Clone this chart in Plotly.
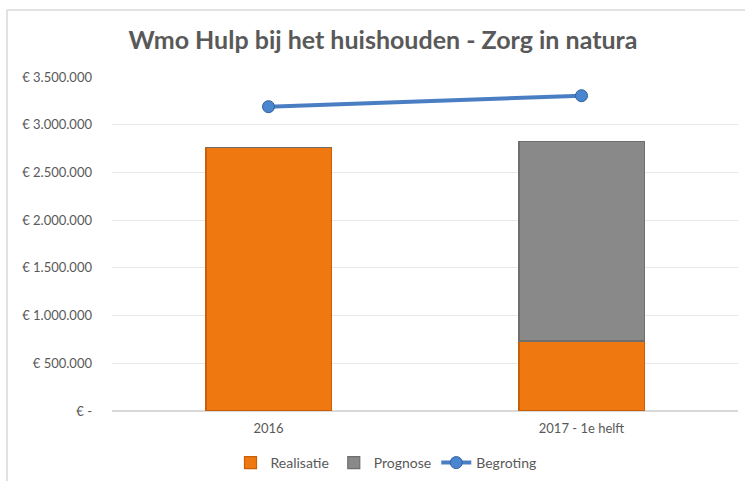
import plotly.graph_objects as go

categories = ["2016", "2017 - 1e helft"]
realisatie = [2765000, 733000]
prognose = [0, 2089000]
begroting = [3189000, 3304000]
tick_vals = [0, 500000, 1000000, 1500000, 2000000, 2500000, 3000000, 3500000]
tick_text = ["€ -", "€ 500.000", "€ 1.000.000", "€ 1.500.000", "€ 2.000.000",
             "€ 2.500.000", "€ 3.000.000", "€ 3.500.000"]

W, H = 745, 481
L, R, T, B = 112, 7, 77, 70

fig = go.Figure()
fig.add_trace(go.Bar(x=categories, y=realisatie, name="Realisatie",
                     marker=dict(color="#F07810", line=dict(color="#C95F06", width=1.2)),
                     width=0.4))
fig.add_trace(go.Bar(x=categories, y=prognose, name="Prognose",
                     marker=dict(color="#898989", line=dict(color="#6E6E6E", width=1.2)),
                     width=0.4))
fig.add_trace(go.Scatter(x=categories, y=begroting, name="Begroting",
                         mode="lines+markers",
                         line=dict(color="#4A7EC2", width=4),
                         marker=dict(size=12, color="#4A85CF",
                                     line=dict(color="#2F5F9E", width=1))))

pw = W - L - R
ph = H - T - B
fig.add_shape(type="line", xref="paper", yref="paper",
              x0=(7 - L) / pw, x1=(W + 5 - L) / pw,
              y0=(H - B - 10) / ph, y1=(H - B - 10) / ph,
              line=dict(color="#D9D9D9", width=1.5))
fig.add_shape(type="line", xref="paper", yref="paper",
              x0=(7 - L) / pw, x1=(7 - L) / pw,
              y0=(H - B - 10) / ph, y1=(H - B - H - 5) / ph,
              line=dict(color="#D9D9D9", width=1.5))

fig.update_layout(
    width=W, height=H,
    margin=dict(l=L, r=R, t=T, b=B, autoexpand=False),
    barmode="stack",
    plot_bgcolor="white", paper_bgcolor="white",
    font=dict(family="Lato, Open Sans, sans-serif", color="#595959", size=13),
    title=dict(text="Wmo Hulp bij het huishouden - Zorg in natura",
               x=(383 / W), xanchor="center", y=1 - 40 / H, yanchor="middle",
               font=dict(family="Lato", size=25, color="#595959", weight="bold")),
    legend=dict(orientation="h", xref="container", x=386 / W, xanchor="center",
                yref="container", y=1 - 463 / H, yanchor="middle",
                font=dict(size=14, color="#595959"),
                traceorder="normal", itemwidth=30),
    showlegend=True,
)
fig.update_xaxes(showgrid=False, showline=False, ticks="", automargin=False,
                 ticklabelstandoff=8,
                 tickfont=dict(size=13, color="#595959"))
fig.update_yaxes(range=[0, 3500000], tickvals=tick_vals, ticktext=tick_text,
                 showgrid=True, gridcolor="#E8E8E8", gridwidth=1,
                 zeroline=True, zerolinecolor="#D9D9D9", zerolinewidth=1.5,
                 showline=False, ticks="", ticklabelstandoff=19, automargin=False,
                 tickfont=dict(size=13, color="#595959"))

fig.write_html("out.html", config={"displayModeBar": False},
               post_script="document.body.style.margin='0';document.body.style.padding='0';")
